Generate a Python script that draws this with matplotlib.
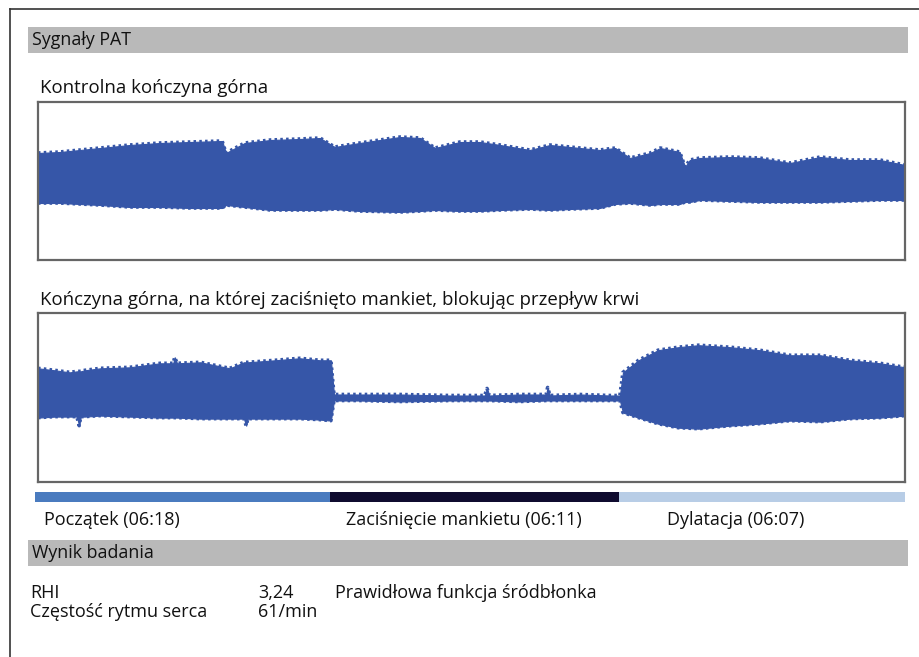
import matplotlib
matplotlib.use("Agg")
import matplotlib.pyplot as plt
from matplotlib.patches import Rectangle
from matplotlib.lines import Line2D

plt.rcParams['font.family'] = ['Open Sans', 'DejaVu Sans']

W, H = 920, 657

# --- data -------------------------------------------------------------
# time in seconds, amplitude in arbitrary units (0 = signal baseline)
t_control = [0, 28, 54, 80, 118, 157, 196, 237, 242, 266, 299, 337, 363, 382,
             414, 466, 492, 511, 543, 569, 595, 633, 659, 685, 723, 743, 762,
             788, 801, 826, 833, 839, 852, 891, 929, 968, 1007, 1045, 1084, 1116]
up_control = [28, 29, 31, 33, 36, 38, 39, 40, 28, 38, 41, 42, 43, 34,
              38, 44, 43, 33, 39, 39, 36, 31, 36, 34, 31, 33, 23,
              28, 33, 29, 14, 21, 23, 24, 23, 18, 24, 21, 21, 16]
lo_control = [-22, -22, -23, -24, -26, -26, -27, -27, -24, -26, -29, -29, -29, -28,
              -30, -31, -30, -29, -30, -30, -29, -28, -29, -28, -27, -23, -22,
              -24, -23, -23, -21, -21, -19, -20, -21, -21, -21, -20, -19, -19]

t_cuff = [0, 22, 41, 50, 53, 55, 60, 80, 118, 157, 174, 176, 179, 209, 247,
          265, 268, 270, 305, 337, 363, 377, 381, 414, 466, 530, 575, 578, 581,
          620, 654, 656, 659, 698, 736, 749, 753, 773, 798, 824, 850, 891, 929,
          968, 1007, 1045, 1084, 1116]
up_cuff = [29, 27, 25, 26, 26, 26, 27, 29, 30, 34, 34, 40, 34, 35, 29,
           35, 35, 35, 37, 39, 37, 37, 3, 3, 3, 2, 2, 9, 2,
           3, 3, 10, 2, 3, 2, 2, 25, 37, 47, 50, 52, 50, 47,
           42, 42, 37, 34, 30]
lo_cuff = [-20, -19, -19, -19, -28, -19, -19, -18, -19, -20, -20, -20, -20, -21, -21,
           -21, -28, -21, -21, -21, -22, -23, -3, -3, -4, -3, -3, -3, -3,
           -4, -3, -3, -3, -3, -3, -3, -15, -20, -26, -30, -31, -28, -26,
           -23, -24, -21, -20, -18]

phase_names = ['Początek (06:18)', 'Zaciśnięcie mankietu (06:11)', 'Dylatacja (06:07)']
phase_secs = [378, 371, 367]
phase_colors = ['#4a7bbf', '#0f0b2f', '#b8cde6']

results = [('RHI', '3,24', 'Prawidłowa funkcja śródbłonka'),
           ('Częstość rytmu serca', '61/min', '')]

SIG = '#3656a8'


def px_box(x0, y0, x1, y1):
    return [x0 / W, 1 - y1 / H, (x1 - x0) / W, (y1 - y0) / H]


def px_text(x, y, s, size=13, **kw):
    fig.text(x / W, 1 - y / H, s, va='center', ha='left', fontsize=size,
             color='#111111', **kw)


fig = plt.figure(figsize=(W / 100, H / 100), dpi=100)
fig.patch.set_facecolor('white')

# outer frame
fig.add_artist(Line2D([10 / W, 1], [1 - 9 / H, 1 - 9 / H], color='#333333', lw=1.2))
fig.add_artist(Line2D([10 / W, 10 / W], [0, 1 - 9 / H], color='#333333', lw=1.2))

# grey section headers
for y0, y1, title in [(27, 53, 'Sygnały PAT'), (540, 566, 'Wynik badania')]:
    fig.add_artist(Rectangle((28 / W, 1 - y1 / H), 880 / W, (y1 - y0) / H,
                             facecolor='#b9b9b9', edgecolor='none'))
    px_text(32, (y0 + y1) / 2, title, size=12.8)

# signal panels
panels = [
    ((38, 102, 905, 260), t_control, up_control, lo_control, 79,
     'Kontrolna kończyna górna', 88),
    ((38, 313, 905, 482), t_cuff, up_cuff, lo_cuff, 84,
     'Kończyna górna, na której zaciśnięto mankiet, blokując przepływ krwi', 300),
]
for bx, t, up, lo, lim, label, ly in panels:
    ax = fig.add_axes(px_box(*bx))
    ax.fill_between(t, lo, up, color=SIG, linewidth=0.8, edgecolor=SIG)
    # ragged edge of the dense waveform
    ax.plot(t, up, color=SIG, lw=2.6, ls=(0, (0.7, 0.9)), solid_capstyle='butt')
    ax.plot(t, lo, color=SIG, lw=2.6, ls=(0, (0.7, 0.9)), solid_capstyle='butt')
    ax.set_xlim(0, sum(phase_secs))
    ax.set_ylim(-lim, lim)
    ax.set_xticks([])
    ax.set_yticks([])
    for sp in ax.spines.values():
        sp.set_color('#666666')
        sp.set_linewidth(1.6)
    px_text(40, ly, label, size=13.4)

# timeline of the phases
axt = fig.add_axes(px_box(35, 492, 905, 502))
left = 0
for secs, col in zip(phase_secs, phase_colors):
    axt.barh(0, secs, left=left, height=1, color=col, edgecolor='none')
    left += secs
axt.set_xlim(0, sum(phase_secs))
axt.set_ylim(-0.5, 0.5)
axt.axis('off')

for name, x in zip(phase_names, [44, 346, 667]):
    px_text(x, 520, name)

# results
for i, (name, val, note) in enumerate(results):
    y = 593 + i * 19
    px_text(30, y, name)
    px_text(258, y, val)
    if note:
        px_text(335, y, note)

fig.savefig('out.png', dpi=100)
